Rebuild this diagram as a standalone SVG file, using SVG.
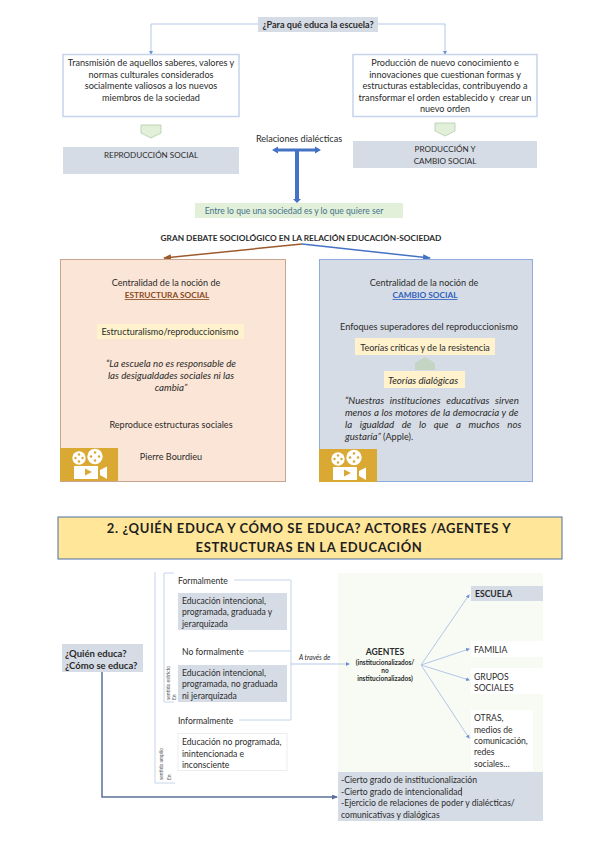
<svg xmlns="http://www.w3.org/2000/svg" xmlns:xlink="http://www.w3.org/1999/xlink" width="599" height="848" viewBox="0 0 599 848">
<style>
text{font-family:Lato,"Liberation Sans",sans-serif;font-size:8.6px;fill:#2b2b2b}
.u{font-size:9.1px}
.k{font-size:8.1px}
.q{font-size:9.7px;font-style:italic}
.r{font-size:5px;fill:#555}
.s{font-size:6.5px;font-weight:700}
.c{text-anchor:middle}
.b{font-weight:700}
.gray{fill:#d6dce5}
.yel{fill:#fff2cc}
.wb{fill:#fff;stroke:#c5d4ec;stroke-width:1.5}
.thin{fill:none;stroke:#c5d4ec;stroke-width:1}
.arr{fill:none;stroke:#b4c7e7;stroke-width:1;marker-end:url(#sm)}
.pent{fill:#e2f0d9;stroke:#a9c4a0;stroke-width:.7}
</style>
<defs>
<marker id="sm" markerWidth="4" markerHeight="4" refX="3" refY="2" orient="auto" markerUnits="userSpaceOnUse"><path d="M0 0L4 2L0 4Z" fill="#6f94d6"/></marker>
<marker id="br" markerWidth="8" markerHeight="6" refX="7" refY="3" orient="auto" markerUnits="userSpaceOnUse"><path d="M0 0L8 3L0 6Z" fill="#9c5a2c"/></marker>
<marker id="bl" markerWidth="8" markerHeight="6" refX="7" refY="3" orient="auto" markerUnits="userSpaceOnUse"><path d="M0 0L8 3L0 6Z" fill="#4472c4"/></marker>
<marker id="dk" markerWidth="6" markerHeight="5" refX="5" refY="2.5" orient="auto" markerUnits="userSpaceOnUse"><path d="M0 0L6 2.5L0 5Z" fill="#5b7099"/></marker>
<g id="cam">
<rect width="58" height="33" fill="#d9a933"/>
<circle cx="19" cy="10" r="6.700" fill="#fff"/><circle cx="35" cy="8.500" r="7.700" fill="#fff"/>
<g fill="#d9a933"><circle cx="19" cy="6.500" r="1.200"/><circle cx="19" cy="13.500" r="1.200"/><circle cx="15.500" cy="10" r="1.200"/><circle cx="22.500" cy="10" r="1.200"/><circle cx="35" cy="4.500" r="1.300"/><circle cx="35" cy="12.500" r="1.300"/><circle cx="31" cy="8.500" r="1.300"/><circle cx="39" cy="8.500" r="1.300"/></g>
<rect x="14" y="18" width="24" height="13" fill="#fff"/><path d="M40 22L47 18.500V31L40 27Z" fill="#fff"/><path d="M25 20.500L32 24L25 27.500Z" fill="#d9a933"/>
</g>
</defs>
<rect width="599" height="848" fill="#fff"/>

<g id="bg-agentes"><rect x="338" y="573" width="205" height="199" fill="#f8fbf4"/></g>

<g id="connectors">
<path class="arr" d="M258 24H151V54"/>
<path class="arr" d="M378 24H445V54"/>
<path d="M276 150H317" fill="none" stroke="#4472c4" stroke-width="3"/>
<path d="M278 146.500L272 150L278 153.500ZM315 146.500L321 150L315 153.500Z" fill="#4472c4"/>
<path d="M297 150V200" fill="none" stroke="#4472c4" stroke-width="4"/>
<path d="M293 199H301L297 203Z" fill="#4472c4"/>
<path d="M302 244L164 258" fill="none" stroke="#9c5a2c" stroke-width="1.500" marker-end="url(#br)"/>
<path d="M302 244L430 258" fill="none" stroke="#4472c4" stroke-width="1.500" marker-end="url(#bl)"/>
<path class="thin" d="M234 580H291V720H239M248 651H291"/>
<path class="arr" d="M291 664H349"/>
<path class="thin" d="M155 572V783H175M174 573H164V702H174"/>
<path class="arr" d="M421 665L469 595"/>
<path class="arr" d="M421 665L469 649"/>
<path class="arr" d="M421 665L469 680"/>
<path class="arr" d="M421 665L469 738"/>
<path d="M102 672V797H337" fill="none" stroke="#5b7099" stroke-width="1.500" marker-end="url(#dk)"/>
</g>

<g id="n-pregunta"><rect class="gray" x="258" y="17" width="120" height="15"/><text class="c b u" x="318" y="27.500">¿Para qué educa la escuela?</text></g>
<g id="n-transmision"><rect class="wb" x="63" y="54.500" width="176" height="62"/>
<text class="c u" x="151" y="66">Transmisión de aquellos saberes, valores y</text><text class="c u" x="151" y="77.500">normas culturales considerados</text><text class="c u" x="151" y="89">socialmente valiosos a los nuevos</text><text class="c u" x="151" y="100.500">miembros de la sociedad</text></g>
<g id="n-produccion"><rect class="wb" x="353" y="54.500" width="184" height="62"/>
<text class="c u" x="445" y="66">Producción de nuevo conocimiento e</text><text class="c u" x="445" y="77.500">innovaciones que cuestionan formas y</text><text class="c u" x="445" y="89">estructuras establecidas, contribuyendo a</text><text class="c u" x="445" y="100.500" xml:space="preserve">transformar el orden establecido y  crear un</text><text class="c u" x="445" y="112">nuevo orden</text></g>
<g id="p1"><path class="pent" d="M141 125H161V133L151 138L141 133Z"/></g>
<g id="p2"><path class="pent" d="M435 123H455V131L445 136L435 131Z"/></g>
<g id="n-reproduccion"><rect class="gray" x="63" y="147" width="176" height="27"/><text class="c k" x="151" y="158">REPRODUCCIÓN SOCIAL</text></g>
<g id="n-cambio"><rect class="gray" x="353" y="141" width="184" height="27"/><text class="c k" x="445" y="152">PRODUCCIÓN Y</text><text class="c k" x="445" y="164">CAMBIO SOCIAL</text></g>
<g id="n-relaciones"><text class="c u" x="299" y="142">Relaciones dialécticas</text></g>
<g id="n-entre"><rect x="195" y="203" width="208" height="15" fill="#e2f0d9"/><text class="c" x="294" y="214" style="fill:#44708c">Entre lo que una sociedad es y lo que quiere ser</text></g>
<g id="n-debate"><text class="c b" x="301" y="241" style="font-size:8.300px">GRAN DEBATE SOCIOLÓGICO EN LA RELACIÓN EDUCACIÓN-SOCIEDAD</text></g>

<g id="n-estructura"><rect x="60.500" y="259.500" width="225" height="222" fill="#fbe5d6" stroke="#c9a48f"/>
<text class="c u" x="166" y="286">Centralidad de la noción de</text>
<text class="c b" x="167" y="298" text-decoration="underline" style="font-size:8.300px;fill:#8a4a22">ESTRUCTURA SOCIAL</text>
<rect class="yel" x="97" y="324" width="147" height="15"/>
<text class="c u" x="170" y="335">Estructuralismo/reproduccionismo</text>
<text class="c q" x="171" y="367">“La escuela no es responsable de</text><text class="c q" x="171" y="379">las desigualdades sociales ni las</text><text class="c q" x="171" y="391">cambia”</text>
<text class="c u" x="171" y="428">Reproduce estructuras sociales</text>
<text class="c u" x="171" y="460">Pierre Bourdieu</text>
<use xlink:href="#cam" x="60" y="448"/></g>

<g id="n-cambio-social"><rect x="319.500" y="259.500" width="213" height="222" fill="#d6dce5" stroke="#8faadc"/>
<text class="c u" x="424" y="286">Centralidad de la noción de</text>
<text class="c b" x="425" y="298" text-decoration="underline" style="font-size:8.300px;fill:#2f62bd">CAMBIO SOCIAL</text>
<text class="c" x="429" y="330" style="font-size:9.200px">Enfoques superadores del reproduccionismo</text>
<rect class="yel" x="355" y="338" width="140" height="17"/>
<text class="c" x="425" y="350.500" style="font-size:9px">Teorías críticas y de la resistencia</text>
<path d="M425 357L435 363V370H415V363Z" fill="#c5d5c4"/>
<rect class="yel" x="384" y="371" width="81" height="17"/>
<text class="c q" x="423" y="383.500">Teorías dialógicas</text>
<text class="q" x="345" y="404" word-spacing="3.500px">“Nuestras instituciones educativas sirven</text>
<text class="q" x="345" y="416" word-spacing="0.400px">menos a los motores de la democracia y de</text>
<text class="q" x="345" y="428" word-spacing="5.300px">la igualdad de lo que a muchos nos</text>
<text class="q" x="345" y="440">gustaría” <tspan style="font-style:normal;font-size:9.100px">(Apple).</tspan></text>
<use xlink:href="#cam" x="319" y="449"/></g>

<g id="n-titulo"><rect x="58" y="517" width="504" height="42" fill="#ffe699" stroke="#4a6fa5" stroke-width="1"/>
<text class="c b" x="309" y="533" style="font-size:13px;letter-spacing:.6px;fill:#1f1f1f">2. ¿QUIÉN EDUCA Y CÓMO SE EDUCA? ACTORES /AGENTES Y</text>
<text class="c b" x="309" y="552" style="font-size:13px;letter-spacing:.6px;fill:#1f1f1f">ESTRUCTURAS EN LA EDUCACIÓN</text></g>

<g id="n-quien"><rect class="gray" x="62" y="644" width="81" height="28"/><text class="b" x="65" y="656.500" style="font-size:9.500px">¿Quién educa?</text><text class="b" x="65" y="668.500" style="font-size:9.500px">¿Cómo se educa?</text></g>
<g id="n-formal"><text x="178" y="584">Formalmente</text><rect class="gray" x="178" y="593" width="109" height="37"/><text x="182" y="603.500">Educación intencional,</text><text x="182" y="615">programada, graduada y</text><text x="182" y="626.500">jerarquizada</text></g>
<g id="n-noformal"><text x="182" y="655">No formalmente</text><rect class="gray" x="178" y="665" width="109" height="37"/><text x="182" y="675.500">Educación intencional,</text><text x="182" y="687">programada, no graduada</text><text x="182" y="698.500">ni jerarquizada</text></g>
<g id="n-informal"><text x="178" y="723.500">Informalmente</text><rect x="178" y="733.500" width="109" height="37" fill="#fff" stroke="#ededed"/><text x="182" y="745">Educación no programada,</text><text x="182" y="756.500">inintencionada e</text><text x="182" y="768">inconsciente</text></g>
<g id="n-estricto"><text class="r" transform="translate(169.500 700) rotate(-90)">sentido estricto</text><text class="r" transform="translate(175.500 700) rotate(-90)">En</text></g>
<g id="n-amplio"><text class="r" transform="translate(163 780) rotate(-90)">sentido amplio</text><text class="r" transform="translate(171 780) rotate(-90)">En</text></g>
<g id="n-atraves"><text x="299" y="660" style="font-size:6.800px;font-style:italic">A través de</text></g>
<g id="n-agentes"><text class="c b" x="385" y="655">AGENTES</text><text class="c s" x="385" y="664.500">(institucionalizados/</text><text class="c s" x="385" y="672.500">no</text><text class="c s" x="385" y="680.500">institucionalizados)</text></g>
<g id="n-escuela"><rect class="gray" x="471" y="586" width="72" height="15"/><text class="b" x="475" y="597">ESCUELA</text></g>
<g id="n-familia"><rect x="471" y="641" width="72" height="16" fill="#fff"/><text x="474" y="652.500">FAMILIA</text></g>
<g id="n-grupos"><rect x="471" y="668" width="72" height="26" fill="#fff"/><text x="474" y="679.500">GRUPOS</text><text x="474" y="690.500">SOCIALES</text></g>
<g id="n-otras"><rect x="471" y="710" width="62" height="61" fill="#fff"/><text x="474" y="721">OTRAS,</text><text x="474" y="732.500">medios de</text><text x="474" y="743.500">comunicación,</text><text x="474" y="755">redes</text><text x="474" y="766.500">sociales…</text></g>
<g id="n-rasgos"><rect class="gray" x="338" y="772" width="205" height="49"/><text x="341" y="783">-Cierto grado de institucionalización</text><text x="341" y="794.500">-Cierto grado de intencionalidad</text><path d="M461.500 787V796" stroke="#444" stroke-width=".6"/><text x="341" y="806">-Ejercicio de relaciones de poder y dialécticas/</text><text x="341" y="817.500">comunicativas y dialógicas</text></g>
</svg>
